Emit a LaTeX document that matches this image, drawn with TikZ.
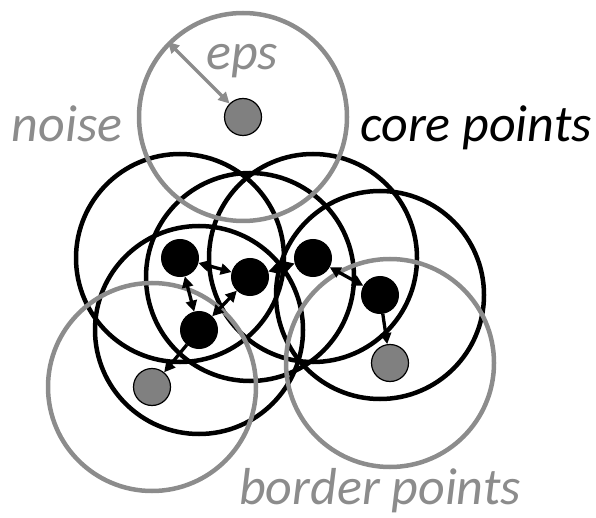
\documentclass[tikz,border=0pt]{standalone}
\usepackage{fontspec}
\setmainfont{Carlito}
\usetikzlibrary{arrows.meta}
\definecolor{lg}{RGB}{140,140,140}
\definecolor{pg}{RGB}{128,128,128}
\begin{document}
\begin{tikzpicture}[x=1pt,y=-1pt,
  corecirc/.style={circle, draw=black, line width=4.5pt, minimum size=208pt, inner sep=0pt},
  graycirc/.style={circle, draw=lg, line width=4.5pt, minimum size=208pt, inner sep=0pt},
  corept/.style={circle, fill=black, draw=black, line width=1pt, minimum size=37pt, inner sep=0pt},
  graypt/.style={circle, fill=pg, draw=black, line width=1.2pt, minimum size=37pt, inner sep=0pt},
  link/.style={line width=3.3pt, {Triangle[length=11pt,width=11pt]}-{Triangle[length=11pt,width=11pt]}},
  onelink/.style={line width=3.3pt, -{Triangle[length=11pt,width=11pt]}},
  lbl/.style={font=\fontsize{52}{62}\selectfont\itshape, inner sep=0pt, anchor=base}
]
\useasboundingbox (0,0) rectangle (596,518);
% core circles
\node[corecirc] (cA) at (180,258) {};
\node[corecirc] (cB) at (250,277) {};
\node[corecirc] (cC) at (199,330) {};
\node[corecirc] (cD) at (313,258) {};
\node[corecirc] (cE) at (380,295) {};
% gray circles
\node[graycirc] (cN) at (243,117) {};
\node[graycirc] (cF) at (152,387) {};
\node[graycirc] (cG) at (390,363) {};
% points
\node[graypt] (N) at (243,117) {};
\node[corept] (A) at (180,258) {};
\node[corept] (B) at (250,277) {};
\node[corept] (C) at (199,330) {};
\node[corept] (D) at (313,258) {};
\node[corept] (E) at (380,295) {};
\node[graypt] (F) at (152,387) {};
\node[graypt] (G) at (390,363) {};
% arrows
\draw[link, draw=lg, fill=lg] (cN.135) -- (N);
\draw[link] (A) -- (B);
\draw[link] (A) -- (C);
\draw[link] (C) -- (B);
\draw[link] (B) -- (D);
\draw[link] (D) -- (E);
\draw[onelink] (C) -- (F);
\draw[onelink] (E) -- (G);
% labels
\node[lbl, text=lg] (teps) at (242,70) {eps};
\node[lbl, text=lg] (tnoise) at (67,142) {noise};
\node[lbl, text=black] (tcore) at (476,142) {core points};
\node[lbl, text=lg] (tborder) at (380,504) {border points};
\end{tikzpicture}
\end{document}
